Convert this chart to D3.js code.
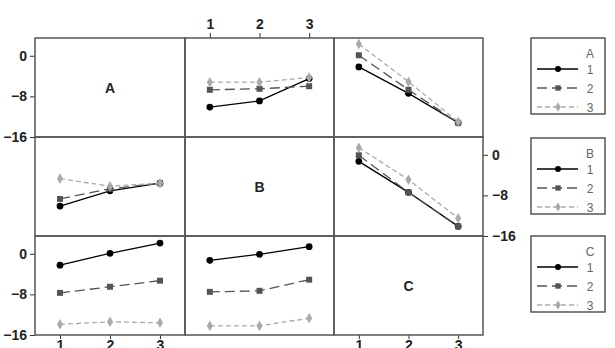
<!DOCTYPE html>
<html><head><meta charset="utf-8">
<script src="https://cdn.jsdelivr.net/npm/d3@7"></script>
<style>body{margin:0;background:#fff}svg{display:block}</style>
</head><body>
<svg id="c" width="615" height="348"></svg>
<script>
const factors = ["A", "B", "C"];
const levels = [1, 2, 3];
const yTicks = [0, -8, -16];
// series per trace level over x levels 1..3
const A_by_B = [[-10.1, -8.9, -4.5], [-6.7, -6.5, -6.0], [-5.2, -5.2, -4.3]];
const A_by_C = [[-2.2, -7.4, -13.2], [0.1, -6.7, -13.2], [2.3, -5.1, -13.0]];
const B_by_A = [[-10.1, -7.1, -5.6], [-8.7, -6.7, -5.6], [-4.7, -6.2, -5.6]];
const B_by_C = [[-1.3, -7.4, -14.1], [-0.1, -7.4, -14.1], [1.4, -4.9, -12.5]];
const C_by_A = [[-2.25, 0.1, 2.1], [-7.7, -6.5, -5.3], [-13.9, -13.4, -13.6]];
const C_by_B = [[-1.3, -0.1, 1.4], [-7.5, -7.3, -5.1], [-14.2, -14.2, -12.7]];

const panels = {"0-1": A_by_B, "0-2": A_by_C, "1-0": B_by_A, "1-2": B_by_C, "2-0": C_by_A, "2-1": C_by_B};

const svg = d3.select("#c");
const colX = [35, 185, 334, 483];
const rowY = [38, 137, 236, 335];
const font = "'Liberation Sans', Arial, sans-serif";
const styles = [
  {color: "#000", dash: null, shape: d3.symbolCircle, size: 36},
  {color: "#555", dash: "10,5", shape: d3.symbolSquare, size: 36},
  {color: "#aaa", dash: "5,3", shape: d3.symbolDiamond, size: 32}
];

for (let r = 0; r < 3; r++) {
  for (let c = 0; c < 3; c++) {
    const x = d3.scaleLinear().domain([0.5, 3.5]).range([colX[c], colX[c + 1]]);
    const y = d3.scaleLinear().domain([-16, 3.5]).range([rowY[r + 1], rowY[r]]);
    const g = svg.append("g");
    if (r === c) {
      g.append("text").attr("x", (colX[c] + colX[c + 1]) / 2).attr("y", (rowY[r] + rowY[r + 1]) / 2 + 5)
        .attr("text-anchor", "middle").attr("font-family", font).attr("font-weight", "bold")
        .attr("font-size", 14).attr("fill", "#222").text(factors[r]);
    } else {
      const data = panels[r + "-" + c];
      data.forEach((vals, i) => {
        const st = styles[i];
        const line = d3.line().x((d, k) => x(levels[k])).y(d => y(d));
        g.append("path").attr("d", line(vals)).attr("fill", "none").attr("stroke", st.color)
          .attr("stroke-width", 1.3).attr("stroke-dasharray", st.dash);
        g.selectAll(null).data(vals).enter().append("path")
          .attr("transform", (d, k) => `translate(${x(levels[k])},${y(d)})`)
          .attr("d", d3.symbol().type(st.shape).size(st.size)).attr("fill", st.color);
      });
    }
    const axStyle = sel => {
      sel.selectAll("text").attr("font-family", font).attr("font-size", 14).attr("font-weight", "bold").attr("fill", "#222");
      sel.selectAll("line").attr("stroke", "#333");
      sel.select(".domain").remove();
    };
    if (c === 0 && r !== 1) {
      svg.append("g").attr("transform", `translate(${colX[0]},0)`)
        .call(d3.axisLeft(y).tickValues(yTicks).tickSize(5).tickPadding(3).tickFormat(d3.format("d"))).call(axStyle);
    }
    if (c === 2 && r === 1) {
      svg.append("g").attr("transform", `translate(${colX[3]},0)`)
        .call(d3.axisRight(y).tickValues(yTicks).tickSize(5).tickPadding(4).tickFormat(d3.format("d"))).call(axStyle);
    }
    if (r === 0 && c === 1) {
      svg.append("g").attr("transform", `translate(0,${rowY[0]})`)
        .call(d3.axisTop(x).tickValues(levels).tickSize(5).tickPadding(4).tickFormat(d3.format("d"))).call(axStyle);
    }
    if (r === 2 && c !== 1) {
      svg.append("g").attr("transform", `translate(0,${rowY[3]})`)
        .call(d3.axisBottom(x).tickValues(levels).tickSize(4).tickPadding(1).tickFormat(d3.format("d"))).call(axStyle);
    }
  }
}
for (let r = 0; r < 3; r++) for (let c = 0; c < 3; c++) {
  svg.append("rect").attr("x", colX[c]).attr("y", rowY[r]).attr("width", colX[c + 1] - colX[c])
    .attr("height", rowY[r + 1] - rowY[r]).attr("fill", "none").attr("stroke", "#555").attr("stroke-width", 1.5);
}
const legTop = [38, 138, 236];
factors.forEach((f, i) => {
  const g = svg.append("g").attr("transform", `translate(531,${legTop[i]})`);
  g.append("rect").attr("width", 74).attr("height", 76).attr("fill", "#fff").attr("stroke", "#555").attr("stroke-width", 1.5);
  g.append("text").attr("x", 59).attr("y", 20).attr("text-anchor", "middle").attr("font-family", font)
    .attr("font-size", 12).attr("fill", "#666").text(f);
  levels.forEach((lv, k) => {
    const st = styles[k];
    const yy = 31 + k * 19;
    g.append("line").attr("x1", 6).attr("x2", 47).attr("y1", yy).attr("y2", yy).attr("stroke", st.color)
      .attr("stroke-width", 1.3).attr("stroke-dasharray", st.dash);
    g.append("path").attr("transform", `translate(27,${yy})`).attr("d", d3.symbol().type(st.shape).size(st.size * 0.8)).attr("fill", st.color);
    g.append("text").attr("x", 59).attr("y", yy + 5).attr("text-anchor", "middle").attr("font-family", font)
      .attr("font-size", 12).attr("fill", "#666").text(lv);
  });
});
</script>
</body></html>
